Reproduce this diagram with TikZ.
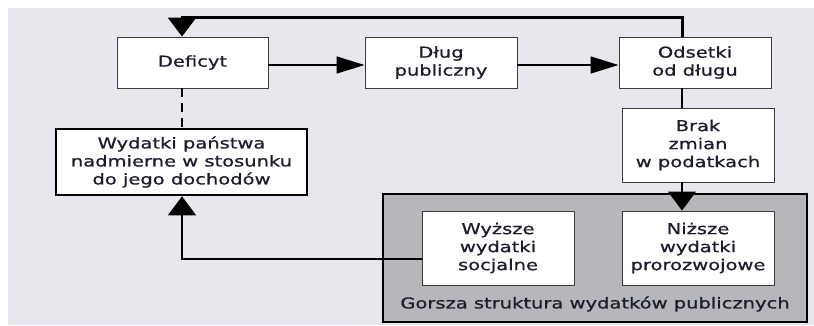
\documentclass[tikz,border=0pt]{standalone}
\usepackage{fontspec}
\setmainfont{DejaVu Sans}[FakeStretch=1.3,FakeBold=0.8]
\usetikzlibrary{arrows.meta}
\definecolor{bgc}{RGB}{230,232,237}
\definecolor{panelc}{RGB}{181,183,187}
\definecolor{txtc}{RGB}{28,28,44}
\definecolor{edgec}{RGB}{60,60,60}
\tikzset{
  box/.style={draw=edgec, line width=0.9pt, fill=white, text=txtc, align=center,
    inner sep=0pt, font=\fontsize{15}{18}\selectfont},
  thickbox/.style={box, draw=black, line width=2.6pt},
  link/.style={line width=1.4pt, draw=black},
  vtip/.style={-{Triangle[width=28pt,length=19pt]}},
  htip/.style={-{Triangle[width=17pt,length=28pt]}},
}
\begin{document}
\begin{tikzpicture}[x=1pt,y=-1pt]
\useasboundingbox (0,0) rectangle (814,325);
\fill[bgc] (8,8) rectangle (814,325);
% panel
\node[draw=black, line width=2.6pt, fill=panelc, minimum width=424pt, minimum height=128pt, inner sep=0pt] (panel) at (595,258) {};
\node[text=txtc, font=\fontsize{15}{18}\selectfont] (cap) at (595,304) {Gorsza struktura wydatków publicznych};
% boxes
\node[box, minimum width=151pt, minimum height=51pt] (deficyt) at (192.5,62.5) {Deficyt};
\node[box, minimum width=152pt, minimum height=51pt] (dlug) at (441,62.5) {Dług\\publiczny};
\node[box, minimum width=152pt, minimum height=51pt] (odsetki) at (695,62.5) {Odsetki\\od długu};
\node[box, minimum width=152pt, minimum height=74pt] (brak) at (698,145) {Brak\\zmian\\w podatkach};
\node[thickbox, minimum width=251pt, minimum height=66pt] (wyd) at (181.5,162) {Wydatki państwa\\nadmierne w stosunku\\do jego dochodów};
\node[box, minimum width=152pt, minimum height=74pt] (wyzsze) at (498,248) {Wyższe\\wydatki\\socjalne};
\node[box, minimum width=152pt, minimum height=74pt] (nizsze) at (698,248) {Niższe\\wydatki\\prorozwojowe};
% guide coordinates
\coordinate (cl) at (182,0);
\coordinate (cr) at (682,0);
\coordinate (ctop) at (0,17);
\coordinate (cmid) at (0,65);
\coordinate (clow) at (0,259);
% connectors
\draw[line width=3pt, vtip] (odsetki.north -| cr) |- (ctop -| cl) -- (deficyt.north -| cl);
\draw[link, htip] (deficyt.east |- cmid) -- (dlug.west |- cmid);
\draw[link, htip] (dlug.east |- cmid) -- (odsetki.west |- cmid);
\draw[link, dash pattern=on 9pt off 6pt] (deficyt.south -| cl) -- (wyd.north -| cl);
\draw[link] (odsetki.south -| cr) -- (brak.north -| cr);
\draw[link, vtip] (brak.south -| cr) -- (nizsze.north -| cr);
\draw[link, vtip] (wyzsze.west |- clow) -| (wyd.south -| cl);
\end{tikzpicture}
\end{document}
